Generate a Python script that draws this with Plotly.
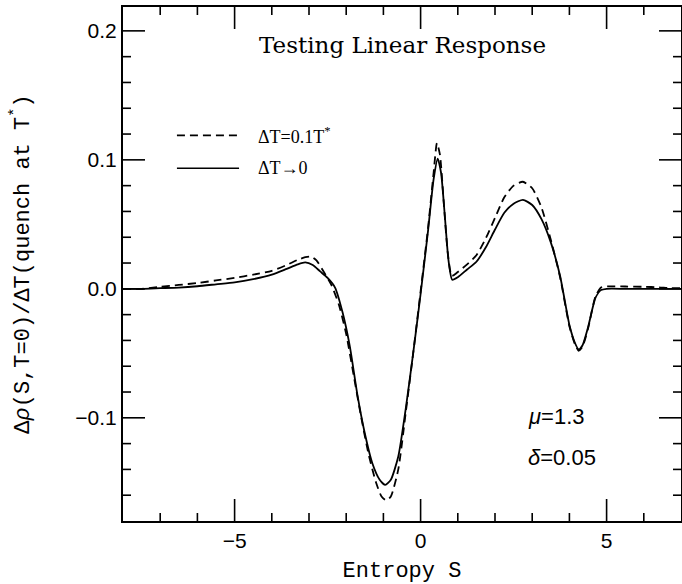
import plotly.graph_objects as go

# ---- data ----
s_solid = [-8, -7.5, -7, -6.5, -6, -5.5, -5, -4.5, -4, -3.6, -3.3, -3.1, -2.9, -2.7, -2.5,
           -2.3, -2.1, -1.9, -1.7, -1.5, -1.3, -1.1, -0.95, -0.8, -0.6, -0.4, -0.2, 0.0,
           0.2, 0.35, 0.46, 0.55, 0.65, 0.75, 0.85, 1.0, 1.25, 1.5, 1.75, 2.0, 2.25, 2.5,
           2.75, 3.0, 3.25, 3.5, 3.75, 4.0, 4.15, 4.25, 4.35, 4.5, 4.7, 4.85, 5.0, 5.5, 6.0,
           6.5, 7.0]
rho_solid = [0.0, 0.0, 0.0005, 0.001, 0.002, 0.0035, 0.005, 0.0075, 0.011, 0.0155, 0.019,
             0.0205, 0.0185, 0.0135, 0.0085, 0.001, -0.018, -0.045, -0.082, -0.112, -0.135,
             -0.148, -0.152, -0.148, -0.130, -0.093, -0.050, -0.004, 0.045, 0.085, 0.101,
             0.090, 0.057, 0.022, 0.007, 0.009, 0.015, 0.021, 0.032, 0.046, 0.059, 0.066,
             0.069, 0.065, 0.054, 0.036, 0.010, -0.028, -0.042, -0.047, -0.044, -0.030,
             -0.007, -0.001, 0.0, 0.0, 0.0, 0.0, 0.0]

s_dash = [-8, -7.5, -7, -6.5, -6, -5.5, -5, -4.5, -4, -3.6, -3.3, -3.1, -2.95, -2.8, -2.6,
          -2.4, -2.2, -2.0, -1.8, -1.6, -1.4, -1.2, -1.05, -0.92, -0.8, -0.6, -0.4, -0.2,
          0.0, 0.2, 0.35, 0.44, 0.52, 0.62, 0.73, 0.84, 1.0, 1.25, 1.5, 1.75, 2.0, 2.25,
          2.5, 2.75, 3.0, 3.25, 3.5, 3.75, 4.0, 4.15, 4.25, 4.35, 4.5, 4.7, 4.85, 5.0, 5.5,
          6.0, 6.4, 6.7, 7.0]
rho_dash = [0.0, 0.0, 0.0015, 0.003, 0.0045, 0.0065, 0.0085, 0.011, 0.014, 0.0185, 0.0225,
            0.0245, 0.025, 0.022, 0.013, 0.003, -0.012, -0.035, -0.067, -0.099, -0.128,
            -0.150, -0.161, -0.164, -0.161, -0.140, -0.096, -0.050, -0.002, 0.047, 0.090,
            0.113, 0.104, 0.068, 0.028, 0.010, 0.013, 0.019, 0.026, 0.039, 0.055, 0.071,
            0.080, 0.083, 0.078, 0.063, 0.038, 0.009, -0.029, -0.043, -0.048, -0.045,
            -0.031, -0.006, 0.001, 0.0018, 0.0018, 0.0016, 0.0012, 0.0005, 0.0005]

x_major_step, x_minor_step = 5, 1
y_major_step, y_minor_step = 0.1, 0.02
legend_labels = ["ΔT=0.1T<sup>*</sup>", "ΔT→0"]
title_text = "Testing Linear Response"
param_labels = ["<i>μ</i>=1.3", "<i>δ</i>=0.05"]

X_RANGE = [-8, 7]
Y_RANGE = [-0.18, 0.2185]

fig = go.Figure()
fig.add_trace(go.Scatter(x=s_dash, y=rho_dash, mode="lines",
                         line=dict(color="black", width=1.8, dash="8px,5px", shape="spline", smoothing=0.6),
                         name=legend_labels[0], showlegend=False))
fig.add_trace(go.Scatter(x=s_solid, y=rho_solid, mode="lines",
                         line=dict(color="black", width=1.8, shape="spline", smoothing=0.6),
                         name=legend_labels[1], showlegend=False))

leg_x0, leg_x1, leg_tx = -6.55, -4.88, -4.42
leg_y = [0.119, 0.0935]
for i, (yy, dash) in enumerate(zip(leg_y, ["8px,5px", "solid"])):
    fig.add_shape(type="line", x0=leg_x0, x1=leg_x1, y0=yy, y1=yy, xref="x", yref="y",
                  line=dict(color="black", width=1.6, dash=dash))
    fig.add_annotation(x=leg_tx, y=yy, xref="x", yref="y", text=legend_labels[i],
                       showarrow=False, xanchor="left", yanchor="middle",
                       font=dict(family="Liberation Serif", size=18, color="black"))

fig.add_annotation(x=0.5, y=0.189, xref="paper", yref="y", text=title_text, showarrow=False,
                   xanchor="center", yanchor="middle",
                   font=dict(family="DejaVu Serif", size=23, color="black"))
for txt, yy in zip(param_labels, [-0.099, -0.131]):
    fig.add_annotation(x=2.83, y=yy, xref="x", yref="y", text=txt, showarrow=False,
                       xanchor="left", yanchor="middle",
                       font=dict(family="Liberation Sans", size=22, color="black"))

# ---- tick marks on all four sides (inside), placed through the axes' scales ----
MAJ_LEN, MIN_LEN = 22, 8
tick_line = dict(color="black", width=1.6)

def is_major(v, step):
    q = v / step
    return abs(q - round(q)) < 1e-6

x_vals = [X_RANGE[0] + i * x_minor_step for i in range(1, int(round((X_RANGE[1] - X_RANGE[0]) / x_minor_step)))]
for v in x_vals:
    L = MAJ_LEN if is_major(v, x_major_step) else MIN_LEN
    for anchor, sgn in [(0, 1), (1, -1)]:
        fig.add_shape(type="line", xref="x", yref="paper", x0=v, x1=v,
                      ysizemode="pixel", yanchor=anchor, y0=0, y1=sgn * L, line=tick_line)

n_y = int((Y_RANGE[1] - Y_RANGE[0]) / y_minor_step) + 2
y_vals = []
for i in range(-20, 21):
    v = round(i * y_minor_step, 4)
    if Y_RANGE[0] + 1e-6 < v < Y_RANGE[1] - 1e-6:
        y_vals.append(v)
for v in y_vals:
    L = MAJ_LEN if is_major(v, y_major_step) else MIN_LEN
    for anchor, sgn in [(0, 1), (1, -1)]:
        fig.add_shape(type="line", xref="paper", yref="y", y0=v, y1=v,
                      xsizemode="pixel", xanchor=anchor, x0=0, x1=sgn * L, line=tick_line)

fig.update_layout(
    width=682, height=584, margin=dict(l=123, r=1, t=7, b=63, autoexpand=False),
    plot_bgcolor="white", paper_bgcolor="white", showlegend=False,
    xaxis=dict(range=X_RANGE, tickmode="linear", tick0=0, dtick=x_major_step, ticks="",
               showline=True, linecolor="black", linewidth=2, mirror=True,
               showgrid=False, zeroline=False,
               tickfont=dict(family="Liberation Sans", size=21, color="black"),
               title=dict(text="Entropy S", standoff=10,
                          font=dict(family="Liberation Mono", size=22, color="black"))),
    yaxis=dict(range=Y_RANGE, tickmode="linear", tick0=0, dtick=y_major_step, ticks="",
               tickformat=".1f", showline=True, linecolor="black", linewidth=2, mirror=True,
               showgrid=False, zeroline=False,
               tickfont=dict(family="Liberation Sans", size=21, color="black"),
               title=dict(text="Δ<i>ρ</i>(S,T=0)/ΔT(quench at T<sup>*</sup>)", standoff=40,
                          font=dict(family="Liberation Mono", size=22, color="black"))),
)

fig.write_html("out.html")
